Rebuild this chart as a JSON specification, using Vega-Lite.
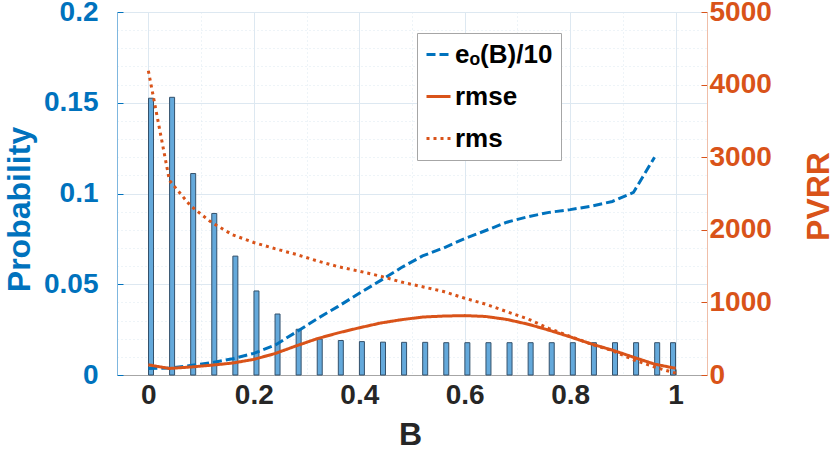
{
  "$schema": "https://vega.github.io/schema/vega-lite/v6.json",
  "width": 590,
  "height": 363,
  "autosize": {"type": "none"},
  "padding": {"left": 117, "top": 12, "right": 123, "bottom": 74},
  "background": "white",
  "config": {
    "font": "Liberation Sans",
    "view": {"stroke": "#b5b5b5", "strokeWidth": 1},
    "axis": {"labelFontWeight": "bold", "titleFontWeight": "bold", "labelFontSize": 28, "titleFontSize": 32, "labelOverlap": false, "labelFlush": false, "labelBound": false},
    "legend": {
      "symbolType": "stroke", "symbolSize": 576, "symbolStrokeWidth": 3,
      "labelFontSize": 26, "labelFontWeight": "bold", "labelColor": "#000000", "labelOffset": 3,
      "padding": 8, "rowPadding": 15,
      "strokeColor": "#a6a6a6", "fillColor": "white"
    }
  },
  "datasets": {
    "bars": [
      {"B": 0.005, "p": 0.1525},
      {"B": 0.045, "p": 0.153},
      {"B": 0.085, "p": 0.111},
      {"B": 0.125, "p": 0.089},
      {"B": 0.165, "p": 0.0655},
      {"B": 0.205, "p": 0.0463},
      {"B": 0.245, "p": 0.0336},
      {"B": 0.285, "p": 0.0252},
      {"B": 0.325, "p": 0.0198},
      {"B": 0.365, "p": 0.019},
      {"B": 0.405, "p": 0.0184},
      {"B": 0.445, "p": 0.0181},
      {"B": 0.485, "p": 0.018},
      {"B": 0.525, "p": 0.018},
      {"B": 0.565, "p": 0.0178},
      {"B": 0.605, "p": 0.0178},
      {"B": 0.645, "p": 0.0178},
      {"B": 0.685, "p": 0.0178},
      {"B": 0.725, "p": 0.0178},
      {"B": 0.765, "p": 0.0178},
      {"B": 0.805, "p": 0.0178},
      {"B": 0.845, "p": 0.0178},
      {"B": 0.885, "p": 0.0178},
      {"B": 0.925, "p": 0.0178},
      {"B": 0.965, "p": 0.0178},
      {"B": 0.995, "p": 0.0178}
    ],
    "lines": [
      {"B": 0, "series": "eₒ(B)/10", "v": 90},
      {"B": 0.04, "series": "eₒ(B)/10", "v": 95},
      {"B": 0.08, "series": "eₒ(B)/10", "v": 130},
      {"B": 0.12, "series": "eₒ(B)/10", "v": 170},
      {"B": 0.16, "series": "eₒ(B)/10", "v": 225},
      {"B": 0.2, "series": "eₒ(B)/10", "v": 298},
      {"B": 0.24, "series": "eₒ(B)/10", "v": 410},
      {"B": 0.28, "series": "eₒ(B)/10", "v": 590},
      {"B": 0.32, "series": "eₒ(B)/10", "v": 775},
      {"B": 0.36, "series": "eₒ(B)/10", "v": 945},
      {"B": 0.4, "series": "eₒ(B)/10", "v": 1125},
      {"B": 0.44, "series": "eₒ(B)/10", "v": 1300},
      {"B": 0.48, "series": "eₒ(B)/10", "v": 1480},
      {"B": 0.52, "series": "eₒ(B)/10", "v": 1640},
      {"B": 0.56, "series": "eₒ(B)/10", "v": 1750},
      {"B": 0.6, "series": "eₒ(B)/10", "v": 1880},
      {"B": 0.64, "series": "eₒ(B)/10", "v": 1990},
      {"B": 0.68, "series": "eₒ(B)/10", "v": 2105},
      {"B": 0.72, "series": "eₒ(B)/10", "v": 2180},
      {"B": 0.76, "series": "eₒ(B)/10", "v": 2240},
      {"B": 0.8, "series": "eₒ(B)/10", "v": 2278},
      {"B": 0.84, "series": "eₒ(B)/10", "v": 2325},
      {"B": 0.88, "series": "eₒ(B)/10", "v": 2390},
      {"B": 0.92, "series": "eₒ(B)/10", "v": 2515},
      {"B": 0.96, "series": "eₒ(B)/10", "v": 3000},
      {"B": 0, "series": "rmse", "v": 140},
      {"B": 0.04, "series": "rmse", "v": 90},
      {"B": 0.08, "series": "rmse", "v": 110},
      {"B": 0.12, "series": "rmse", "v": 135},
      {"B": 0.16, "series": "rmse", "v": 165},
      {"B": 0.2, "series": "rmse", "v": 215},
      {"B": 0.24, "series": "rmse", "v": 295},
      {"B": 0.28, "series": "rmse", "v": 400},
      {"B": 0.32, "series": "rmse", "v": 500},
      {"B": 0.36, "series": "rmse", "v": 580},
      {"B": 0.4, "series": "rmse", "v": 650},
      {"B": 0.44, "series": "rmse", "v": 715},
      {"B": 0.48, "series": "rmse", "v": 762},
      {"B": 0.52, "series": "rmse", "v": 798},
      {"B": 0.56, "series": "rmse", "v": 812},
      {"B": 0.6, "series": "rmse", "v": 818},
      {"B": 0.64, "series": "rmse", "v": 806},
      {"B": 0.68, "series": "rmse", "v": 765},
      {"B": 0.72, "series": "rmse", "v": 700},
      {"B": 0.76, "series": "rmse", "v": 617},
      {"B": 0.8, "series": "rmse", "v": 525},
      {"B": 0.84, "series": "rmse", "v": 428},
      {"B": 0.88, "series": "rmse", "v": 343},
      {"B": 0.92, "series": "rmse", "v": 245},
      {"B": 0.96, "series": "rmse", "v": 150},
      {"B": 1, "series": "rmse", "v": 92},
      {"B": 0, "series": "rms", "v": 4190},
      {"B": 0.04, "series": "rms", "v": 2680},
      {"B": 0.08, "series": "rms", "v": 2330},
      {"B": 0.12, "series": "rms", "v": 2100},
      {"B": 0.16, "series": "rms", "v": 1930},
      {"B": 0.2, "series": "rms", "v": 1825},
      {"B": 0.24, "series": "rms", "v": 1740},
      {"B": 0.28, "series": "rms", "v": 1662},
      {"B": 0.32, "series": "rms", "v": 1572},
      {"B": 0.36, "series": "rms", "v": 1492},
      {"B": 0.4, "series": "rms", "v": 1430},
      {"B": 0.44, "series": "rms", "v": 1362},
      {"B": 0.48, "series": "rms", "v": 1280},
      {"B": 0.52, "series": "rms", "v": 1215},
      {"B": 0.56, "series": "rms", "v": 1150},
      {"B": 0.6, "series": "rms", "v": 1057},
      {"B": 0.64, "series": "rms", "v": 975},
      {"B": 0.68, "series": "rms", "v": 872},
      {"B": 0.72, "series": "rms", "v": 772},
      {"B": 0.76, "series": "rms", "v": 640},
      {"B": 0.8, "series": "rms", "v": 532},
      {"B": 0.84, "series": "rms", "v": 425},
      {"B": 0.88, "series": "rms", "v": 335},
      {"B": 0.92, "series": "rms", "v": 210},
      {"B": 0.96, "series": "rms", "v": 110},
      {"B": 1, "series": "rms", "v": 25}
    ]
  },
  "layer": [
    {
      "data": {"name": "bars"},
      "mark": {"type": "bar", "size": 5, "fill": "#64a9db", "stroke": "#34516b", "strokeWidth": 1},
      "encoding": {
        "x": {
          "field": "B", "type": "quantitative",
          "scale": {"domain": [-0.05, 1.05], "nice": false, "zero": false},
          "axis": {
            "title": "B", "titleColor": "#262626", "titleX": 293, "titleY": 69, "titleAlign": "center", "titleBaseline": "alphabetic",
            "labelColor": "#262626", "labelPadding": 12,
            "values": [0, 0.05, 0.1, 0.15, 0.2, 0.25, 0.3, 0.35, 0.4, 0.45, 0.5, 0.55, 0.6, 0.65, 0.7, 0.75, 0.8, 0.85, 0.9, 0.95, 1, 1.05],
            "labelExpr": "abs(datum.value*5-round(datum.value*5))<1e-6 ? format(datum.value, '~g') : ''",
            "domainColor": "#a6a6a6",
            "grid": true,
            "gridColor": "#dde8f1",
            "gridDash": {"condition": {"test": "abs(datum.value*5-round(datum.value*5))<1e-6", "value": []}, "value": [1, 3]},
            "tickColor": "#8c8c8c",
            "tickSize": {"condition": {"test": "abs(datum.value*5-round(datum.value*5))<1e-6", "value": -6}, "value": 0}
          }
        },
        "y": {
          "field": "p", "type": "quantitative",
          "scale": {"domain": [0, 0.2], "nice": false},
          "axis": {
            "orient": "left",
            "title": "Probability", "titleColor": "#0072BD", "titleX": -88, "titleY": 197, "titleAngle": 270, "titleAlign": "center", "titleBaseline": "alphabetic",
            "labelColor": "#0072BD", "labelPadding": 25,
            "values": [0, 0.01, 0.02, 0.03, 0.04, 0.05, 0.06, 0.07, 0.08, 0.09, 0.1, 0.11, 0.12, 0.13, 0.14, 0.15, 0.16, 0.17, 0.18, 0.19, 0.2],
            "labelExpr": "abs(datum.value*20-round(datum.value*20))<1e-6 ? format(datum.value, '~g') : ''",
            "domainColor": "#7fb7df",
            "grid": true,
            "gridColor": "#dde8f1",
            "gridDash": {"condition": {"test": "abs(datum.value*20-round(datum.value*20))<1e-6", "value": []}, "value": [1, 3]},
            "tickColor": "#0072BD",
            "tickSize": {"condition": {"test": "abs(datum.value*20-round(datum.value*20))<1e-6", "value": -6}, "value": 0}
          }
        }
      }
    },
    {
      "data": {"name": "lines"},
      "mark": {"type": "line", "strokeWidth": 3, "strokeCap": "butt"},
      "encoding": {
        "x": {"field": "B", "type": "quantitative"},
        "y": {
          "field": "v", "type": "quantitative",
          "scale": {"domain": [0, 5000], "nice": false},
          "axis": {
            "orient": "right",
            "title": "PVRR", "titleColor": "#D95319", "titleX": 121, "titleY": 184, "titleAngle": 270, "titleAlign": "center", "titleBaseline": "alphabetic",
            "labelColor": "#D95319", "labelPadding": 8,
            "values": [0, 1000, 2000, 3000, 4000, 5000],
            "format": "d",
            "domainColor": "#f0bea8",
            "grid": false,
            "tickColor": "#D95319",
            "tickSize": -6
          }
        },
        "color": {
          "field": "series", "type": "nominal",
          "scale": {"domain": ["eₒ(B)/10", "rmse", "rms"], "range": ["#0072BD", "#D95319", "#D95319"]},
          "legend": {"title": null, "orient": "none", "legendX": 300, "legendY": 21, "labelExpr": "datum.label + '\u00a0\u00a0\u00a0'"}
        },
        "strokeDash": {
          "field": "series", "type": "nominal",
          "scale": {"domain": ["eₒ(B)/10", "rmse", "rms"], "range": [[9, 4], [1, 0], [3, 4]]},
          "legend": {"title": null, "orient": "none", "legendX": 300, "legendY": 21, "labelExpr": "datum.label + '\u00a0\u00a0\u00a0'"}
        }
      }
    }
  ],
  "resolve": {"scale": {"y": "independent"}}
}
